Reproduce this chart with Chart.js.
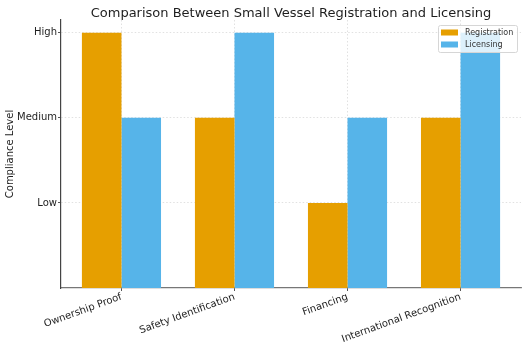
<!DOCTYPE html>
<html>
<head>
<meta charset="utf-8">
<script src="https://cdn.jsdelivr.net/npm/chart.js@4"></script>
<style>
html,body{margin:0;padding:0;background:#fff;}
#wrap{width:527px;height:362px;position:relative;}
</style>
</head>
<body>
<div id="wrap"><canvas id="c" width="527" height="362"></canvas></div>
<script>
// ---- data ----
const categories = ["Ownership Proof", "Safety Identification", "Financing", "International Recognition"];
const levelLabels = ["Low", "Medium", "High"];          // tick labels for values 1,2,3
const levelValues = [1, 2, 3];
const registration = [3, 2, 1, 2];
const licensing = [2, 3, 2, 3];
const seriesNames = ["Registration", "Licensing"];
const seriesColors = ["#E69F00", "#56B4E9"];
const chartTitle = 'Comparison Between Small Vessel Registration and Licensing';

const FONT = "'DejaVu Sans', sans-serif";
const TEXT = '#1e1e1e';

const toPoints = arr => arr.map((v, i) => ({x: i, y: v}));

const titlePlugin = {
  id: 'axesTitle',
  afterDraw(chart) {
    const ctx = chart.ctx, a = chart.chartArea;
    ctx.save();
    ctx.font = '13px ' + FONT;
    ctx.fillStyle = TEXT;
    ctx.textAlign = 'center';
    ctx.textBaseline = 'alphabetic';
    ctx.fillText(chartTitle, (a.left + a.right) / 2, 17);
    ctx.restore();
  }
};

const legendPlugin = {
  id: 'boxLegend',
  afterDatasetsDraw(chart) {
    const ctx = chart.ctx;
    const x0 = 438, y0 = 25, w = 79, h = 27;
    ctx.save();
    ctx.beginPath();
    ctx.roundRect(x0 + 0.5, y0 + 0.5, w, h, 2);
    ctx.fillStyle = 'rgba(255,255,255,0.8)';
    ctx.fill();
    ctx.strokeStyle = '#d6d6d6';
    ctx.lineWidth = 1;
    ctx.stroke();
    ctx.font = '8px ' + FONT;
    ctx.textBaseline = 'middle';
    chart.data.datasets.forEach((ds, i) => {
      const cy = y0 + 7.5 + i * 12;
      ctx.fillStyle = ds.backgroundColor;
      ctx.fillRect(x0 + 3, cy - 3, 17, 6);
      ctx.fillStyle = '#333';
      ctx.fillText(ds.label, x0 + 27, cy + 0.5);
    });
    ctx.restore();
  }
};

new Chart(document.getElementById('c'), {
  type: 'bar',
  data: {
    datasets: [
      {label: seriesNames[0], data: toPoints(registration), backgroundColor: seriesColors[0], borderWidth: 0},
      {label: seriesNames[1], data: toPoints(licensing), backgroundColor: seriesColors[1], borderWidth: 0}
    ]
  },
  options: {
    responsive: false,
    animation: false,
    devicePixelRatio: 1,
    layout: {padding: {left: 0, right: 6, top: 20, bottom: 0}},
    datasets: {bar: {categoryPercentage: 0.7, barPercentage: 1.0}},
    plugins: {
      legend: {display: false},
      tooltip: {enabled: false},
      title: {display: false}
    },
    scales: {
      x: {
        type: 'linear',
        offset: false,
        min: -0.535,
        max: 3.535,
        afterBuildTicks: s => { s.ticks = categories.map((c, i) => ({value: i})); },
        afterFit: s => { s.height = 74; },
        ticks: {
          autoSkip: false,
          maxRotation: 20,
          minRotation: 20,
          padding: 0,
          color: TEXT,
          font: {family: FONT, size: 10},
          callback: (v) => categories[v]
        },
        grid: {
          offset: false,
          color: '#d9d9d9',
          lineWidth: 0.8,
          drawTicks: true,
          tickLength: 3,
          tickColor: '#555',
          tickWidth: 1
        },
        border: {display: true, color: '#777', width: 1.2, dash: [1.5, 2]}
      },
      y: {
        min: 0,
        max: 3.15,
        afterBuildTicks: s => { s.ticks = levelValues.map(v => ({value: v})); },
        afterFit: s => { s.width = 61; },
        ticks: {
          padding: 1,
          color: TEXT,
          font: {family: FONT, size: 10},
          callback: (v) => { const i = levelValues.indexOf(v); return i >= 0 ? levelLabels[i] : ''; }
        },
        grid: {
          color: '#d9d9d9',
          lineWidth: 0.8,
          drawTicks: true,
          tickLength: 3,
          tickColor: '#555',
          tickWidth: 1
        },
        border: {display: true, color: '#444', width: 1.2, dash: [1.5, 2]},
        title: {
          display: true,
          text: 'Compliance Level',
          color: TEXT,
          font: {family: FONT, size: 10},
          padding: {top: 4, bottom: 0}
        }
      }
    }
  },
  plugins: [legendPlugin, titlePlugin]
});
</script>
</body>
</html>
